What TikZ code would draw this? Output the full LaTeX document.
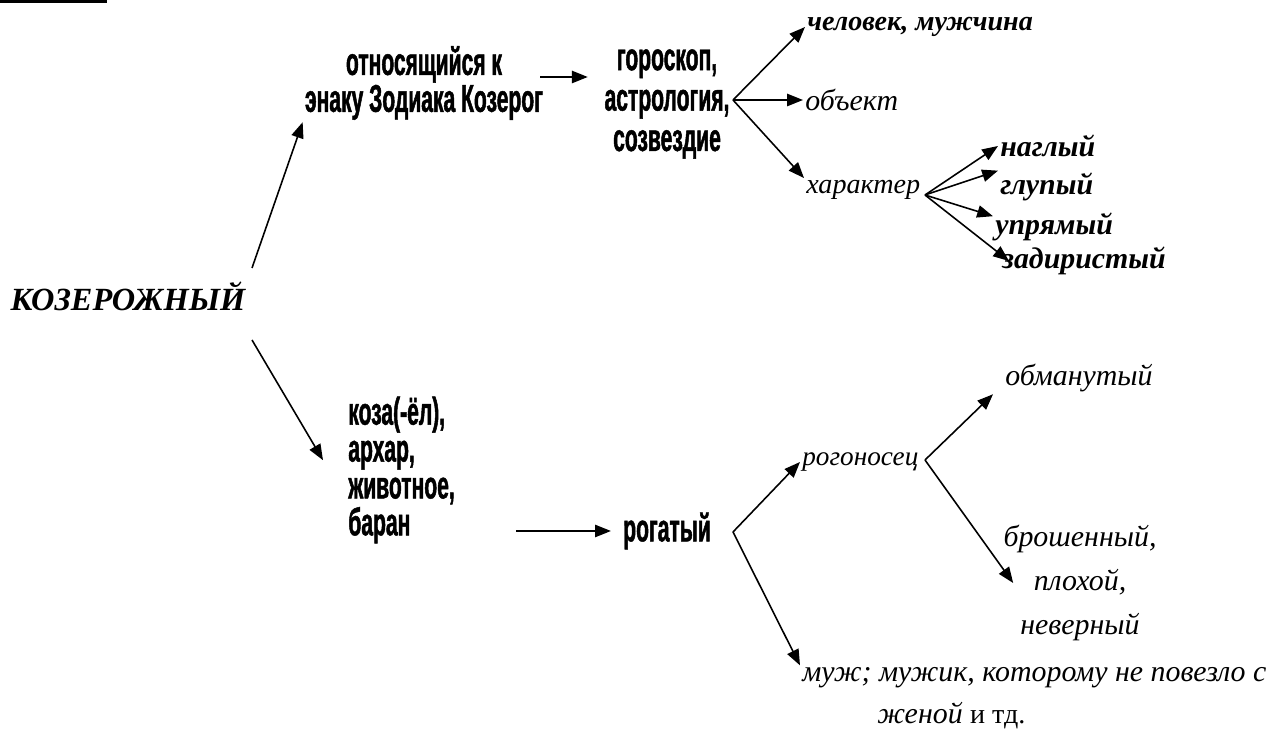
\documentclass[tikz,border=0pt]{standalone}
\usepackage{fontspec}
\setmainfont{Liberation Serif}
\newfontfamily\impfont{Liberation Sans}[FakeStretch=0.545, FakeBold=1.2]
\usepackage{tikz}
\usetikzlibrary{arrows.meta}

\begin{document}
\begin{tikzpicture}[
  x=0.02cm, y=-0.02cm,
  imp/.style={inner sep=0.04cm, align=center,
    font=\impfont\bfseries\fontsize{22pt}{21pt}\selectfont},
  scr/.style={inner sep=0.04cm, anchor=west, font=\itshape\fontsize{17pt}{25pt}\selectfont},
  scrb/.style={scr, font=\bfseries\itshape\fontsize{17pt}{20pt}\selectfont},
  arr/.style={-{Triangle[length=9pt,width=7pt]}, line width=0.9pt}
]
\useasboundingbox (0,0) rectangle (1276,732);
\draw[line width=1.7pt] (0,2) -- (107,2);

\node[inner sep=0.04cm, font=\bfseries\itshape\fontsize{18.4pt}{22pt}\selectfont] (koz) at (128,296) {КОЗЕРОЖНЫЙ};
\node[imp] (zod) at (424,83) {относящийся к\\энаку Зодиака Козерог};
\node[imp, font=\impfont\bfseries\fontsize{22pt}{23pt}\selectfont] (astro) at (667,104) {гороскоп,\\астрология,\\созвездие};
\node[scrb, font=\bfseries\itshape\fontsize{16pt}{20pt}\selectfont] (chel) at (805,27) {человек, мужчина};
\node[scr] (obj) at (803,100) {объект};
\node[scr, font=\itshape\fontsize{16pt}{20pt}\selectfont] (har) at (804,190) {характер};
\node[scrb] (nagl) at (998,146) {наглый};
\node[scrb] (glup) at (998,187) {глупый};
\node[scrb] (upr) at (993,227) {упрямый};
\node[scrb] (zad) at (1000,261) {задиристый};

\node[imp, anchor=west, align=left] (koza) at (346,470) {коза(-ёл),\\архар,\\животное,\\баран};
\node[imp] (rog) at (667,531) {рогатый};
\node[scr, font=\itshape\fontsize{15.5pt}{20pt}\selectfont] (rogon) at (800,462) {рогоносец};
\node[scr] (obm) at (1003,378) {обманутый};
\node[scr, anchor=center, align=center] (brosh) at (1080,583) {брошенный,\\плохой,\\неверный};
\node[scr] (muzh) at (800,678) {муж; мужик, которому не повезло с};
\node[scr] (zhen) at (875,716) {женой {\upshape\fontsize{16pt}{20pt}\selectfont и тд.}};

\coordinate (kozUp) at (252,268);
\coordinate (kozDn) at (252,340);
\coordinate (zodR) at (540,77);
\coordinate (j1) at (733,100);
\coordinate (j2) at (925,195);
\coordinate (kozaR) at (516,531);
\coordinate (j3) at (733,532);
\coordinate (j4) at (925,460);

\draw[arr] (kozUp) -- (zod.south west);
\draw[arr] (kozDn) -- ([xshift=-0.46cm]koza.170);
\draw[arr, shorten >=0.29cm] (zodR) -- (zodR -| astro.west);
\draw[arr] (j1) -- (chel.west);
\draw[arr] (j1) -- (obj.west);
\draw[arr] (j1) -- (har.north west);
\draw[arr] (j2) -- (nagl.west);
\draw[arr] (j2) -- (glup.north west);
\draw[arr] (j2) -- (upr.170);
\draw[arr] (j2) -- ([xshift=0.18cm]zad.west);
\draw[arr, shorten >=0.2cm] (kozaR) -- (kozaR -| rog.west);
\draw[arr] (j3) -- (rogon.west);
\draw[arr] (j3) -- (muzh.north west);
\draw[arr] (j4) -- ([xshift=-0.2cm]obm.south west);
\draw[arr] (j4) -- ([xshift=0.24cm]brosh.west);
\end{tikzpicture}
\end{document}
